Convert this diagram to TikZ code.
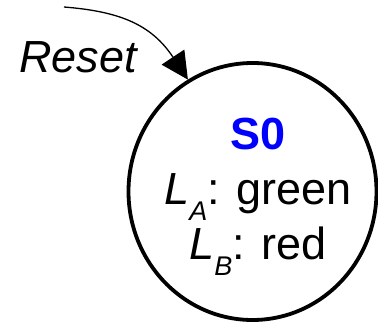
\documentclass[tikz,border=0pt]{standalone}
\usepackage{fontspec}
\setmainfont{Liberation Sans}
\usetikzlibrary{arrows.meta,shapes.geometric}

% lowered italic subscript for the light names
\newcommand{\lsub}[1]{\raisebox{-16pt}{\fontsize{27}{27}\selectfont\itshape #1}}

\begin{document}
\begin{tikzpicture}[
  x=1pt,y=1pt,
  state/.style    ={draw,ellipse,line width=3.8pt,inner sep=0pt,
                    minimum width=248pt,minimum height=257pt},
  statetext/.style={align=center,inner sep=0pt,
                    font=\fontsize{45}{55}\selectfont},
  rstlabel/.style ={inner sep=0pt,font=\fontsize{45}{50}\selectfont\itshape},
  rstarrow/.style ={-{Triangle[length=27pt,width=27pt]},line width=1.3pt},
]
\useasboundingbox (0,0) rectangle (378,322);

%% ============================================================
%%  State S0
%% ============================================================
\node[state] (s0) at (252.5,130.5) {};
\node[statetext] (s0txt) at (258,125.5)
      {\textcolor{blue}{\textbf{S0}}\\
       \textit{L}\lsub{A}: green\\
       \textit{L}\lsub{B}: red};

%% ============================================================
%%  Reset arrow
%% ============================================================
\coordinate (rststart) at (64,315);
\node[rstlabel,anchor=base] (rst) at (78,249) {Reset};
\draw[rstarrow] (rststart) .. controls (119,310.6) and (151,298) .. (s0.120);

\end{tikzpicture}
\end{document}
